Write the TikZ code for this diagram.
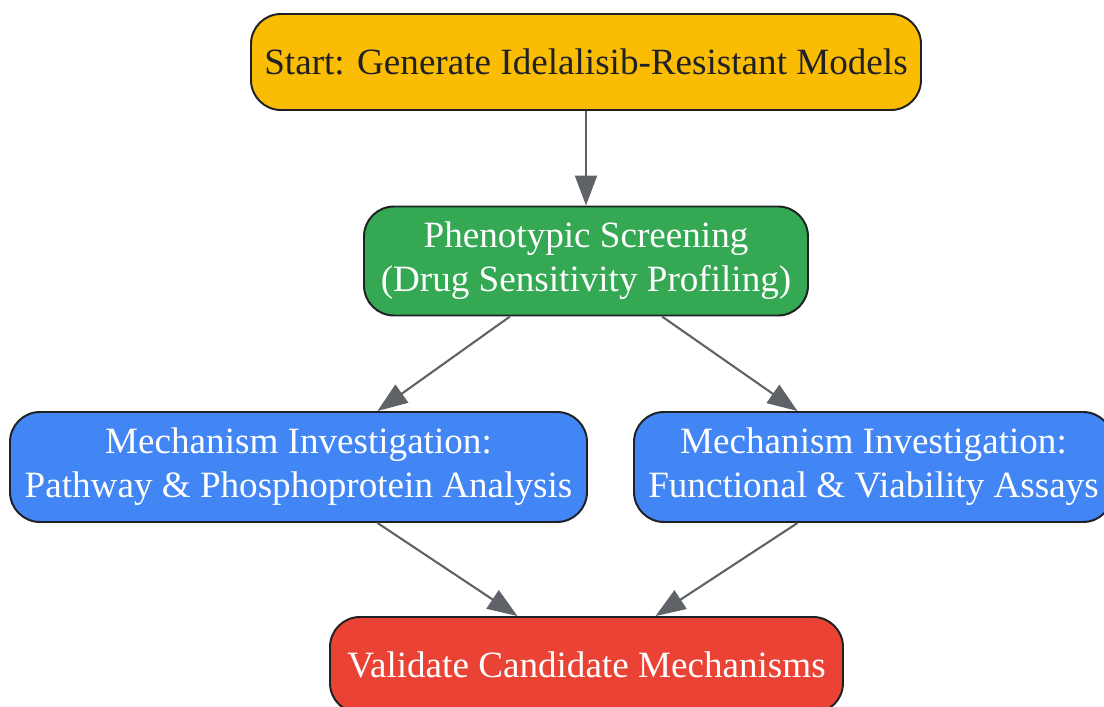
\documentclass[tikz,border=0pt]{standalone}
\usepackage{fontspec}
\setmainfont{Liberation Serif}
\usepackage{xcolor}
\usetikzlibrary{arrows.meta,positioning,calc}
\definecolor{startyellow}{HTML}{FBBC04}
\definecolor{screengreen}{HTML}{34A853}
\definecolor{mechblue}{HTML}{4285F4}
\definecolor{validred}{HTML}{EA4335}
\definecolor{edgegray}{HTML}{5F6368}
\definecolor{inkdark}{HTML}{202124}

\begin{document}
\begin{tikzpicture}[x=0.025cm, y=-0.025cm,
  step box/.style={draw=inkdark, line width=1.4pt, rounded corners=0.75cm,
    align=center, inner sep=0pt, text=white,
    font=\fontsize{26.4}{31.3}\selectfont},
  arr/.style={-{Triangle[length=0.75cm, width=0.55cm]}, line width=1.5pt,
    draw=edgegray, fill=edgegray},
  >=Stealth
]
  \useasboundingbox (0,0) rectangle (1104,707);

  % start (top)
  \node[step box, fill=startyellow, text=inkdark, minimum width=670*0.025cm,
    minimum height=96*0.025cm] (start) at (586, 62)
    {Start: Generate Idelalisib-Resistant Models};

  % screening
  \node[step box, fill=screengreen, minimum width=444*0.025cm,
    minimum height=109*0.025cm] (screen) at (586, 261)
    {Phenotypic Screening\\(Drug Sensitivity Profiling)};

  % two mechanism branches
  \node[step box, fill=mechblue, minimum width=577*0.025cm,
    minimum height=110*0.025cm] (pathway) at (298.5, 467)
    {Mechanism Investigation:\\Pathway \& Phosphoprotein Analysis};
  \node[step box, fill=mechblue, minimum width=479*0.025cm,
    minimum height=110*0.025cm] (assays) at (873.5, 467)
    {Mechanism Investigation:\\Functional \& Viability Assays};

  % validation (bottom)
  \node[step box, fill=validred, minimum width=513*0.025cm,
    minimum height=96*0.025cm] (validate) at (586.5, 665)
    {Validate Candidate Mechanisms};

  % connectors
  \draw[arr] (start) -- (screen);
  \draw[arr] ($(screen.south)+(-76,0)$) -- ($(pathway.north)+(79,0)$);
  \draw[arr] ($(screen.south)+(76,0)$) -- ($(assays.north)+(-76,0)$);
  \draw[arr] ($(pathway.south)+(79,0)$) -- ($(validate.north)+(-69,0)$);
  \draw[arr] ($(assays.south)+(-76,0)$) -- ($(validate.north)+(69,0)$);
\end{tikzpicture}
\end{document}
